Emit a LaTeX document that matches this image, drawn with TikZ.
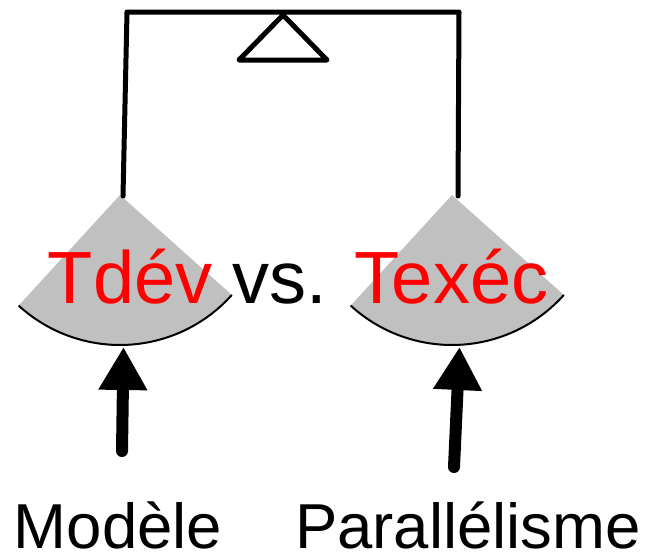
\documentclass[tikz,border=0pt]{standalone}
\usepackage{fontspec}
\setmainfont{Liberation Sans}
\usetikzlibrary{arrows.meta}
\definecolor{pangrey}{HTML}{C0C0C0}
\begin{document}
\begin{tikzpicture}[x=1pt,y=-1pt,
  beam/.style={line width=5pt,line join=round,line cap=round},
  pan/.style={fill=pangrey},
  rim/.style={line width=2pt},
  push/.style={line width=12pt,line cap=round,-{Triangle[length=43pt,width=46pt]}},
  bigtext/.style={font=\fontsize{74}{80}\selectfont,inner sep=0pt,anchor=base},
  labeltext/.style={font=\fontsize{63.5}{68}\selectfont,inner sep=0pt,anchor=base}]
\useasboundingbox (0,0) rectangle (645,554);

% pivot points of the balance
\coordinate (hangL) at (120,195);
\coordinate (hangR) at (452,195);
\coordinate (topL) at (127,12);
\coordinate (topR) at (459,12);

% left pan
\fill[pan] (hangL) -- ++(132.5:150) arc[start angle=132.5,end angle=41.8,radius=150] -- cycle;
\draw[rim] (hangL) ++(132.5:150) arc[start angle=132.5,end angle=41.8,radius=150];
% right pan
\fill[pan] (hangR) -- ++(132.5:150) arc[start angle=132.5,end angle=41.8,radius=150] -- cycle;
\draw[rim] (hangR) ++(132.5:150) arc[start angle=132.5,end angle=41.8,radius=150];

% beam and strings
\draw[beam] (123,196) -- (topL) -- (topR) -- (458,196);
% fulcrum
\draw[beam] (283,15) -- (327,60) -- (239,60) -- cycle;

% comparison text
\node[bigtext] (cmp) at (298,303) {\textcolor{red}{Tdév} vs. \textcolor{red}{Texéc}};

% forces pushing the pans
\coordinate (tipL) at (123.5,347);
\coordinate (tipR) at (459.5,347);
\coordinate (tailL) at (122,451);
\coordinate (tailR) at (454,467);
\draw[push] (tailL) -- (tipL);
\draw[push] (tailR) -- (tipR);

% labels
\node[labeltext] (modele) at (118,548) {Modèle};
\node[labeltext] (para) at (468,548) {Parallélisme};
\end{tikzpicture}
\end{document}
